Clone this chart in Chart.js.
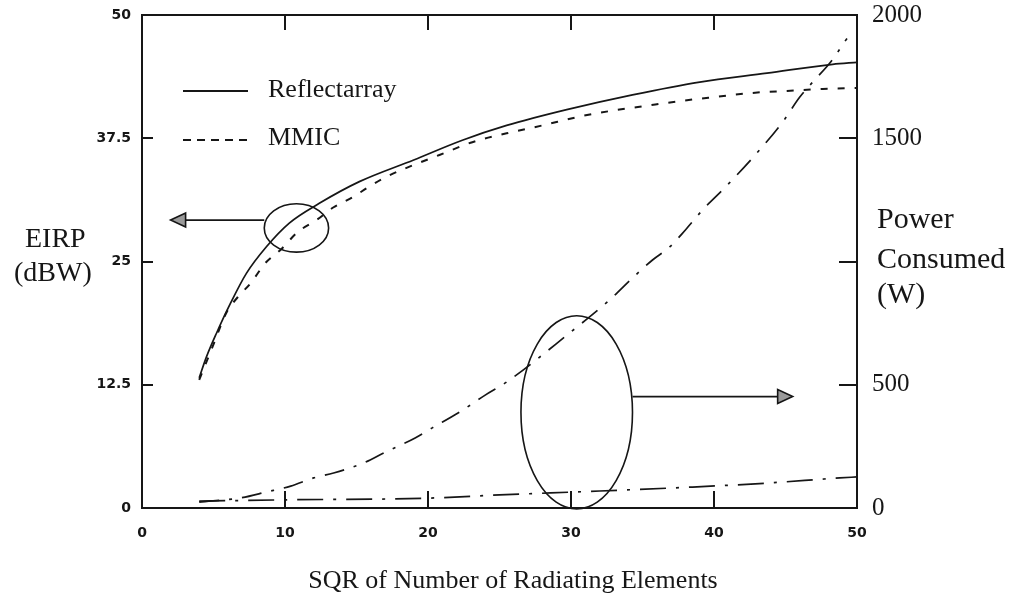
<!DOCTYPE html>
<html>
<head>
<meta charset="utf-8">
<script src="https://cdn.jsdelivr.net/npm/chart.js@4.4.1/dist/chart.umd.min.js"></script>
<style>
  html, body { margin: 0; padding: 0; background: #fff; }
  #wrap { width: 1028px; height: 595px; }
</style>
</head>
<body>
<div id="wrap"><canvas id="eirp" width="1028" height="595"></canvas></div>
<script>
// --- EIRP (dBW) vs SQR of number of radiating elements ---
const reflectEirpX = [4, 4.5, 5.2, 6.2, 7.3, 8.7, 10.3, 12.4, 15.2, 19, 22.4, 25.5, 29.7, 34.3, 39, 43.7, 48.3, 50];
const reflectEirpY = [13.2, 15.3, 17.7, 20.8, 23.8, 26.5, 28.9, 30.9, 33.1, 35.3, 37.3, 38.8, 40.4, 41.9, 43.2, 44.1, 45.0, 45.2];

const mmicEirpX = [4, 5, 5.9, 6.7, 7.6, 8.6, 9.7, 10.9, 12.2, 13.4, 14.7, 15.9, 17.1, 18.5, 20.8, 23.1, 25.5, 28, 30.6, 32.9, 35.3, 37.8, 40.2, 42.7, 45.1, 47.6, 50];
const mmicEirpY = [13.0, 16.6, 19.8, 21.4, 22.8, 24.8, 26.2, 28.0, 29.2, 30.5, 31.5, 32.6, 33.6, 34.5, 35.8, 37.1, 38.0, 38.8, 39.7, 40.3, 40.8, 41.3, 41.7, 42.1, 42.3, 42.5, 42.6];

// --- Power consumed (W), right axis ---
const mmicPowerX = [4, 6.9, 8.7, 10.4, 12, 13.4, 15.5, 16.9, 19.1, 20.3, 22.1, 24, 25.5, 29.9, 32.7, 34.3, 35.7, 36.9, 38, 39.2, 40.8, 43, 44.8, 46, 46.9, 48.1, 49.3];
const mmicPowerY = [24, 41, 65, 89, 122, 142, 183, 223, 284, 325, 385, 458, 511, 710, 844, 933, 1006, 1059, 1128, 1209, 1302, 1440, 1566, 1667, 1728, 1805, 1905];

const reflectPowerX = [4, 10, 20, 25, 32, 38.5, 43.7, 48.8, 50];
const reflectPowerY = [28, 33, 40, 53, 69, 85, 101, 122, 126];

// --- axes ---
const xTicks = [0, 10, 20, 30, 40, 50];
const eirpTicks = [0, 12.5, 25, 37.5, 50];
const eirpTickLabels = ['0', '12.5', '25', '37.5', '50'];
const powerTicks = [0, 500, 1000, 1500, 2000];
const powerTickLabels = ['0', '500', '', '1500', '2000'];

const legendLabels = ['Reflectarray', 'MMIC'];
const xTitle = 'SQR of Number of Radiating Elements';
const eirpTitle = ['EIRP', '(dBW)'];
const powerTitle = ['Power', 'Consumed', '(W)'];

const toPoints = (xs, ys) => xs.map((x, i) => ({ x, y: ys[i] }));

const INK = '#161616';
const SERIF = '"Liberation Serif", "Times New Roman", serif';
const BITMAP = '"DejaVu Sans", sans-serif';

// draws a closed arrow head pointing along (dx, 0)
function arrowHead(ctx, tipX, tipY, dir) {
  const len = 15, half = 7;
  ctx.beginPath();
  ctx.moveTo(tipX, tipY);
  ctx.lineTo(tipX - dir * len, tipY - half);
  ctx.lineTo(tipX - dir * len, tipY + half);
  ctx.closePath();
  ctx.fillStyle = '#9a9a9a';
  ctx.fill();
  ctx.stroke();
}

// vertical axes keep a fixed width and don't push the plot area down
function fixVertical(width) {
  return (scale) => {
    scale.width = width;
    scale.paddingTop = 0;
    scale.paddingBottom = 0;
  };
}

// frame, inward ticks, ellipse call-outs, legend and free labels
const figureDecor = {
  id: 'figureDecor',
  afterDatasetsDraw(chart) {
    const { ctx, chartArea: a, scales } = chart;
    const sx = scales.x, sy = scales.y, sp = scales.y2;
    ctx.save();
    ctx.strokeStyle = INK;
    ctx.lineWidth = 2;
    ctx.strokeRect(a.left, a.top, a.right - a.left, a.bottom - a.top);

    ctx.lineWidth = 2;
    ctx.beginPath();
    xTicks.slice(1, -1).forEach(v => {
      const px = Math.round(sx.getPixelForValue(v));
      ctx.moveTo(px, a.bottom); ctx.lineTo(px, a.bottom - 17);
      ctx.moveTo(px, a.top); ctx.lineTo(px, a.top + 15);
    });
    eirpTicks.slice(1, -1).forEach(v => {
      const py = Math.round(sy.getPixelForValue(v));
      ctx.moveTo(a.left, py); ctx.lineTo(a.left + 11, py);
    });
    powerTicks.slice(1, -1).forEach(v => {
      const py = Math.round(sp.getPixelForValue(v));
      ctx.moveTo(a.right, py); ctx.lineTo(a.right - 18, py);
    });
    ctx.stroke();

    // call-out for the EIRP curves -> left axis
    ctx.lineWidth = 1.6;
    const c1x = sx.getPixelForValue(10.8), c1y = sy.getPixelForValue(28.4);
    const r1x = sx.getPixelForValue(10.8 + 2.25) - c1x;
    const r1y = c1y - sy.getPixelForValue(28.4 + 2.45);
    ctx.beginPath();
    ctx.ellipse(c1x, c1y, r1x, r1y, 0, 0, Math.PI * 2);
    ctx.stroke();
    const a1y = sy.getPixelForValue(29.2);
    const a1tip = sx.getPixelForValue(2.0);
    ctx.beginPath();
    ctx.moveTo(c1x - r1x, a1y); ctx.lineTo(a1tip + 14, a1y);
    ctx.stroke();
    arrowHead(ctx, a1tip, a1y, -1);

    // call-out for the power curves -> right axis
    const c2x = sx.getPixelForValue(30.4), c2y = sy.getPixelForValue(9.7);
    const r2x = sx.getPixelForValue(30.4 + 3.9) - c2x;
    const r2y = c2y - sy.getPixelForValue(9.7 + 9.8);
    ctx.beginPath();
    ctx.ellipse(c2x, c2y, r2x, r2y, 0, 0, Math.PI * 2);
    ctx.stroke();
    const a2y = sy.getPixelForValue(11.3);
    const a2tip = sx.getPixelForValue(45.5);
    ctx.beginPath();
    ctx.moveTo(c2x + r2x, a2y); ctx.lineTo(a2tip - 14, a2y);
    ctx.stroke();
    arrowHead(ctx, a2tip, a2y, 1);

    // legend samples
    ctx.lineWidth = 1.8;
    ctx.beginPath();
    ctx.moveTo(183, 91); ctx.lineTo(248, 91);
    ctx.stroke();
    ctx.setLineDash([8, 6]);
    ctx.beginPath();
    ctx.moveTo(183, 140); ctx.lineTo(248, 140);
    ctx.stroke();
    ctx.setLineDash([]);
    ctx.restore();
  },
  afterDraw(chart) {
    const { ctx } = chart;
    ctx.save();
    ctx.fillStyle = INK;
    ctx.textBaseline = 'alphabetic';
    ctx.textAlign = 'left';

    ctx.font = `26px ${SERIF}`;
    ctx.fillText(legendLabels[0], 268, 97);
    ctx.fillText(legendLabels[1], 268, 145);

    ctx.font = `28px ${SERIF}`;
    ctx.fillText(eirpTitle[0], 25, 247);
    ctx.fillText(eirpTitle[1], 14, 281);

    ctx.font = `30px ${SERIF}`;
    ctx.fillText(powerTitle[0], 877, 228);
    ctx.fillText(powerTitle[1], 877, 268);
    ctx.fillText(powerTitle[2], 877, 303);

    ctx.font = `26px ${SERIF}`;
    ctx.textAlign = 'center';
    ctx.fillText(xTitle, 513, 588);
    ctx.restore();
  }
};

const ctx = document.getElementById('eirp').getContext('2d');
new Chart(ctx, {
  type: 'line',
  data: {
    datasets: [
      {
        label: legendLabels[0],
        data: toPoints(reflectEirpX, reflectEirpY),
        borderColor: INK,
        borderWidth: 1.7,
        yAxisID: 'y',
      },
      {
        label: legendLabels[1],
        data: toPoints(mmicEirpX, mmicEirpY),
        borderColor: INK,
        borderWidth: 2,
        borderDash: [7, 10],
        yAxisID: 'y',
      },
      {
        label: 'MMIC power',
        data: toPoints(mmicPowerX, mmicPowerY),
        borderColor: INK,
        borderWidth: 1.7,
        borderDash: [20, 10, 3, 10],
        yAxisID: 'y2',
      },
      {
        label: 'Reflectarray power',
        data: toPoints(reflectPowerX, reflectPowerY),
        borderColor: INK,
        borderWidth: 1.7,
        borderDash: [26, 10, 3, 10],
        yAxisID: 'y2',
      },
    ],
  },
  options: {
    responsive: false,
    animation: false,
    devicePixelRatio: 1,
    layout: { padding: { top: 15, left: 0, right: 0, bottom: 0 } },
    elements: {
      point: { radius: 0 },
      line: { cubicInterpolationMode: 'monotone', fill: false },
    },
    plugins: {
      legend: { display: false },
      tooltip: { enabled: false },
    },
    scales: {
      x: {
        type: 'linear',
        min: 0,
        max: 50,
        afterFit(scale) {
          scale.height = 87;
          scale.paddingLeft = 0;
          scale.paddingRight = 0;
        },
        afterBuildTicks(scale) { scale.ticks = xTicks.map(v => ({ value: v })); },
        grid: { display: false, drawTicks: false },
        border: { display: false },
        ticks: {
          padding: 17,
          color: INK,
          font: { family: BITMAP, weight: 'bold', size: 14 },
          maxRotation: 0,
        },
      },
      y: {
        type: 'linear',
        position: 'left',
        min: 0,
        max: 50,
        afterFit: fixVertical(142),
        afterBuildTicks(scale) { scale.ticks = eirpTicks.map(v => ({ value: v })); },
        grid: { display: false, drawTicks: false },
        border: { display: false },
        ticks: {
          padding: 11,
          color: INK,
          font: { family: BITMAP, weight: 'bold', size: 14 },
          callback: (v) => eirpTickLabels[eirpTicks.indexOf(v)],
        },
      },
      y2: {
        type: 'linear',
        position: 'right',
        min: 0,
        max: 2000,
        afterFit: fixVertical(171),
        afterBuildTicks(scale) { scale.ticks = powerTicks.map(v => ({ value: v })); },
        grid: { display: false, drawTicks: false },
        border: { display: false },
        ticks: {
          padding: 15,
          color: INK,
          font: { family: SERIF, size: 25 },
          callback: (v) => powerTickLabels[powerTicks.indexOf(v)],
        },
      },
    },
  },
  plugins: [figureDecor],
});
</script>
</body>
</html>
